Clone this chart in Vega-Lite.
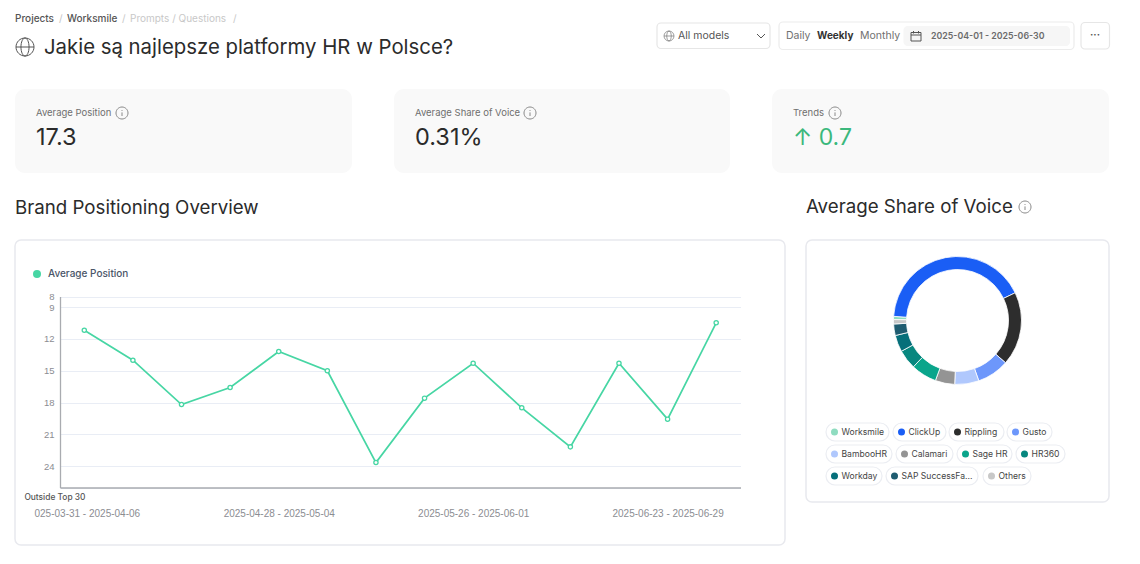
{
  "$schema": "https://vega.github.io/schema/vega-lite/v6.json",
  "background": "white",
  "padding": {"left": 14, "top": 0, "right": 0, "bottom": 0},
  "spacing": 24,
  "config": {"font": "Inter", "text": {"font": "Inter"}},
  "vconcat": [
    {
      "width": 1095,
      "height": 65,
      "view": {"stroke": null},
      "data": {"values": [{}]},
      "layer": [
        {"mark": {"type": "text", "text": "Projects", "x": 0, "y": 19, "align": "left", "fontSize": 10, "fontWeight": 500, "color": "#555555"}},
        {"mark": {"type": "text", "text": "/", "x": 44, "y": 19, "align": "left", "fontSize": 10, "color": "#c4c4c4"}},
        {"mark": {"type": "text", "text": "Worksmile", "x": 52, "y": 19, "align": "left", "fontSize": 10, "fontWeight": 500, "color": "#555555"}},
        {"mark": {"type": "text", "text": "/", "x": 107, "y": 19, "align": "left", "fontSize": 10, "color": "#c8c8c8"}},
        {"mark": {"type": "text", "text": "Prompts / Questions", "x": 115, "y": 19, "align": "left", "fontSize": 10, "color": "#c8c8c8"}},
        {"mark": {"type": "text", "text": "/", "x": 218, "y": 19, "align": "left", "fontSize": 10, "color": "#c8c8c8"}},
        {"mark": {"type": "point", "shape": "M-1,0A1,1,0,1,1,1,0A1,1,0,1,1,-1,0ZM-1,0H1M0,-1A0.45,1,0,0,0,0,1A0.45,1,0,0,0,0,-1Z", "x": 10, "y": 47, "size": 324, "stroke": "#555555", "strokeWidth": 1, "fill": null, "opacity": 1}},
        {"mark": {"type": "text", "text": "Jakie są najlepsze platformy HR w Polsce?", "x": 29, "y": 48, "align": "left", "fontSize": 20.35, "color": "#2b2b2b"}},
        {"mark": {"type": "rect", "x": 642, "x2": 755, "y": 23, "y2": 48.5, "fill": "white", "stroke": "#e6e6e6", "strokeWidth": 1.2, "cornerRadius": 4}},
        {"mark": {"type": "point", "shape": "M-1,0A1,1,0,1,1,1,0A1,1,0,1,1,-1,0ZM-1,0H1M0,-1A0.45,1,0,0,0,0,1A0.45,1,0,0,0,0,-1Z", "x": 654, "y": 36, "size": 100, "stroke": "#777777", "strokeWidth": 0.7, "fill": null, "opacity": 1}},
        {"mark": {"type": "text", "text": "All models", "x": 663, "y": 36, "align": "left", "fontSize": 10.5, "color": "#555555"}},
        {"mark": {"type": "point", "shape": "M-1,-0.5L0,0.5L1,-0.5", "x": 746, "y": 36, "size": 64, "stroke": "#555555", "strokeWidth": 1, "fill": null, "opacity": 1}},
        {"mark": {"type": "rect", "x": 764, "x2": 1059, "y": 22, "y2": 49.5, "fill": "white", "stroke": "#ececec", "strokeWidth": 1.2, "cornerRadius": 4}},
        {"mark": {"type": "text", "text": "Daily", "x": 771, "y": 36, "align": "left", "fontSize": 10.5, "color": "#707070"}},
        {"mark": {"type": "text", "text": "Weekly", "x": 802, "y": 36, "align": "left", "fontSize": 10, "fontWeight": 700, "color": "#333333"}},
        {"mark": {"type": "text", "text": "Monthly", "x": 845, "y": 36, "align": "left", "fontSize": 10.5, "color": "#707070"}},
        {"mark": {"type": "rect", "x": 888.5, "x2": 1055, "y": 26, "y2": 46, "fill": "#f6f6f6", "cornerRadius": 4}},
        {"mark": {"type": "point", "shape": "M-1,-0.7H1V1H-1ZM-1,-0.2H1M-0.5,-1V-0.5M0.5,-1V-0.5", "x": 901, "y": 36, "size": 100, "stroke": "#555555", "strokeWidth": 1, "fill": null, "opacity": 1}},
        {"mark": {"type": "text", "text": "2025-04-01 - 2025-06-30", "x": 916, "y": 36, "align": "left", "fontSize": 8.8, "fontWeight": 600, "color": "#6b6b6b"}},
        {"mark": {"type": "rect", "x": 1066, "x2": 1094.5, "y": 22.5, "y2": 49, "fill": "white", "stroke": "#e6e6e6", "strokeWidth": 1.2, "cornerRadius": 4}},
        {"mark": {"type": "text", "text": "···", "x": 1080, "y": 35, "align": "center", "fontSize": 10, "fontWeight": 700, "color": "#555555"}}
      ]
    },
    {
      "spacing": 42,
      "hconcat": [
        {
          "width": 337,
          "height": 84,
          "view": {"fill": "#f9f9f9", "stroke": null, "cornerRadius": 10},
          "data": {"values": [{"metric": "Average Position", "value": "17.3"}]},
          "layer": [
            {"mark": {"type": "text", "x": 21, "y": 24, "align": "left", "fontSize": 9.5, "color": "#6f6f6f"}, "encoding": {"text": {"field": "metric"}}},
            {"mark": {"type": "point", "shape": "M-1,0A1,1,0,1,1,1,0A1,1,0,1,1,-1,0ZM0,-0.1V0.5M0,-0.5V-0.35", "x": 107, "y": 24, "size": 144, "stroke": "#888888", "strokeWidth": 1, "fill": null, "opacity": 1}},
            {"mark": {"type": "text", "x": 21, "y": 49, "align": "left", "fontSize": 23.5, "color": "#2b2b2b"}, "encoding": {"text": {"field": "value"}}}
          ]
        },
        {
          "width": 336,
          "height": 84,
          "view": {"fill": "#f9f9f9", "stroke": null, "cornerRadius": 10},
          "data": {"values": [{"metric": "Average Share of Voice", "value": "0.31%"}]},
          "layer": [
            {"mark": {"type": "text", "x": 21, "y": 24, "align": "left", "fontSize": 9.5, "color": "#6f6f6f"}, "encoding": {"text": {"field": "metric"}}},
            {"mark": {"type": "point", "shape": "M-1,0A1,1,0,1,1,1,0A1,1,0,1,1,-1,0ZM0,-0.1V0.5M0,-0.5V-0.35", "x": 136, "y": 24, "size": 144, "stroke": "#888888", "strokeWidth": 1, "fill": null, "opacity": 1}},
            {"mark": {"type": "text", "x": 21, "y": 49, "align": "left", "fontSize": 23.5, "color": "#2b2b2b"}, "encoding": {"text": {"field": "value"}}}
          ]
        },
        {
          "width": 337,
          "height": 84,
          "view": {"fill": "#f9f9f9", "stroke": null, "cornerRadius": 10},
          "data": {"values": [{"metric": "Trends", "value": "↑ 0.7"}]},
          "layer": [
            {"mark": {"type": "text", "x": 21, "y": 24, "align": "left", "fontSize": 9.5, "color": "#6f6f6f"}, "encoding": {"text": {"field": "metric"}}},
            {"mark": {"type": "point", "shape": "M-1,0A1,1,0,1,1,1,0A1,1,0,1,1,-1,0ZM0,-0.1V0.5M0,-0.5V-0.35", "x": 63, "y": 24, "size": 144, "stroke": "#888888", "strokeWidth": 1, "fill": null, "opacity": 1}},
            {"mark": {"type": "text", "x": 21, "y": 49, "align": "left", "fontSize": 23, "color": "#3bb87c"}, "encoding": {"text": {"field": "value"}}}
          ]
        }
      ]
    },
    {
      "spacing": 19,
      "resolve": {"scale": {"color": "independent"}, "legend": {"color": "independent"}},
      "hconcat": [
        {
          "width": 770,
          "height": 305,
          "view": {"fill": "white", "stroke": "#e8e9ee", "strokeWidth": 1.5, "cornerRadius": 6},
          "title": {"text": "Brand Positioning Overview", "anchor": "start", "frame": "group", "fontSize": 18.7, "fontWeight": 400, "color": "#2b2b2b", "offset": 23, "dy": 1},
          "data": {"values": [
            {"week": "2025-03-31 - 2025-04-06", "series": "Average Position", "position": 11.18},
            {"week": "2025-04-07 - 2025-04-13", "series": "Average Position", "position": 14.0},
            {"week": "2025-04-14 - 2025-04-20", "series": "Average Position", "position": 18.18},
            {"week": "2025-04-21 - 2025-04-27", "series": "Average Position", "position": 16.58},
            {"week": "2025-04-28 - 2025-05-04", "series": "Average Position", "position": 13.18},
            {"week": "2025-05-05 - 2025-05-11", "series": "Average Position", "position": 15.0},
            {"week": "2025-05-12 - 2025-05-18", "series": "Average Position", "position": 23.65},
            {"week": "2025-05-19 - 2025-05-25", "series": "Average Position", "position": 17.58},
            {"week": "2025-05-26 - 2025-06-01", "series": "Average Position", "position": 14.29},
            {"week": "2025-06-02 - 2025-06-08", "series": "Average Position", "position": 18.49},
            {"week": "2025-06-09 - 2025-06-15", "series": "Average Position", "position": 22.17},
            {"week": "2025-06-16 - 2025-06-22", "series": "Average Position", "position": 14.29},
            {"week": "2025-06-23 - 2025-06-29", "series": "Average Position", "position": 19.56},
            {"week": "2025-06-30 - 2025-07-06", "series": "Average Position", "position": 10.48}
          ]},
          "mark": {"type": "line", "strokeWidth": 1.7, "point": {"filled": false, "fill": "white", "size": 18, "strokeWidth": 1.3, "opacity": 1}},
          "encoding": {
            "x": {
              "field": "week",
              "type": "ordinal",
              "sort": null,
              "scale": {"type": "point", "padding": 0.5, "range": [45, 725.5]},
              "axis": {
                "title": null,
                "offset": -57.5,
                "values": ["2025-03-31 - 2025-04-06", "2025-04-28 - 2025-05-04", "2025-05-26 - 2025-06-01", "2025-06-23 - 2025-06-29"],
                "labelExpr": "datum.label == '2025-03-31 - 2025-04-06' ? slice(datum.label, 1) : datum.label",
                "labelOffset": {"condition": {"test": "datum.label == '2025-03-31 - 2025-04-06'", "value": 2.5}, "value": 0},
                "labelAngle": 0,
                "labelOverlap": false,
                "labelFont": "Liberation Sans",
                "labelFontSize": 10,
                "labelColor": "#8b8d92",
                "labelPadding": 26,
                "labelBaseline": "middle",
                "ticks": false,
                "grid": false,
                "domainColor": "#a9abb0",
                "domainWidth": 1.3
              }
            },
            "y": {
              "field": "position",
              "type": "quantitative",
              "scale": {"domain": [8, 26], "range": [56.5, 247.5], "nice": false, "zero": false},
              "axis": {
                "title": null,
                "offset": -45,
                "values": [8, 9, 12, 15, 18, 21, 24, 26],
                "labelExpr": "datum.value == 26 ? 'Outside Top 30' : datum.label",
                "labelFont": {"condition": {"test": "datum.value == 26", "value": "Inter"}, "value": "Liberation Sans"},
                "labelFontSize": {"condition": {"test": "datum.value == 26", "value": 8.4}, "value": 9.5},
                "labelColor": {"condition": {"test": "datum.value == 26", "value": "#555555"}, "value": "#8b8d92"},
                "labelFontWeight": {"condition": {"test": "datum.value == 26", "value": 500}, "value": 400},
                "labelPadding": {"condition": {"test": "datum.value == 26", "value": -25}, "value": 6},
                "labelOffset": {"condition": {"test": "datum.value == 26", "value": 9}, "value": 0},
                "ticks": false,
                "grid": true,
                "gridColor": "#e9edf5",
                "gridWidth": 1,
                "domainColor": "#a9abb0",
                "domainWidth": 1.3
              }
            },
            "color": {
              "field": "series",
              "type": "nominal",
              "scale": {"range": ["#47d6a4"]},
              "legend": {
                "title": null,
                "orient": "none",
                "legendX": 17,
                "legendY": 29,
                "symbolType": "circle",
                "symbolSize": 64,
                "labelFontSize": 10,
                "labelFontWeight": 500,
                "labelColor": "#4a5568",
                "labelOffset": 6,
                "encoding": {
                  "symbols": {"fill": {"value": "#47d6a4"}, "strokeWidth": {"value": 0}, "opacity": {"value": 1}}
                }
              }
            }
          }
        },
        {
          "width": 303,
          "height": 262,
          "view": {"fill": "white", "stroke": "#e8e9ee", "strokeWidth": 1.5, "cornerRadius": 6},
          "data": {"values": [
            {"brand": "Worksmile", "share": 0.8, "rank": 1},
            {"brand": "ClickUp", "share": 41.8, "rank": 2},
            {"brand": "Rippling", "share": 18.6, "rank": 3},
            {"brand": "Gusto", "share": 8.1, "rank": 4},
            {"brand": "BambooHR", "share": 6.1, "rank": 5},
            {"brand": "Calamari", "share": 4.9, "rank": 6},
            {"brand": "Sage HR", "share": 6.5, "rank": 7},
            {"brand": "HR360", "share": 4.9, "rank": 8},
            {"brand": "Workday", "share": 4.2, "rank": 9},
            {"brand": "SAP SuccessFa...", "share": 2.9, "rank": 10},
            {"brand": "Others", "share": 1.1, "rank": 11}
          ]},
          "layer": [
            {
              "mark": {"type": "arc", "radius": 64, "radius2": 51, "y": 80.5, "stroke": "white", "strokeWidth": 0.8},
              "encoding": {
                "theta": {"field": "share", "type": "quantitative", "scale": {"range": [4.727, 11.01]}},
                "order": {"field": "rank"},
                "color": {
                  "field": "brand",
                  "type": "nominal",
                  "legend": null,
                  "scale": {
                    "domain": ["Worksmile", "ClickUp", "Rippling", "Gusto", "BambooHR", "Calamari", "Sage HR", "HR360", "Workday", "SAP SuccessFa...", "Others"],
                    "range": ["#8fdcc0", "#1a5ef5", "#2d2d2d", "#6d97fb", "#b0c8fd", "#949494", "#0aa58b", "#07877f", "#066f7a", "#1f5c70", "#c8c8c8"]
                  }
                }
              }
            },
            {"transform": [{"filter": "datum.brand == 'Worksmile'"}], "layer": [
              {"mark": {"type": "rect", "x": 20, "x2": 83, "y": 183, "y2": 201, "fill": "white", "stroke": "#ebedf2", "strokeWidth": 1.2, "cornerRadius": 9}},
              {"mark": {"type": "point", "filled": true, "opacity": 1, "size": 49, "x": 28.5, "y": 192}, "encoding": {"color": {"field": "brand", "type": "nominal", "legend": null}}},
              {"mark": {"type": "text", "x": 35.5, "y": 192, "align": "left", "fontSize": 8.6, "color": "#444444"}, "encoding": {"text": {"field": "brand"}}}
            ]},
            {"transform": [{"filter": "datum.brand == 'ClickUp'"}], "layer": [
              {"mark": {"type": "rect", "x": 87, "x2": 140, "y": 183, "y2": 201, "fill": "white", "stroke": "#ebedf2", "strokeWidth": 1.2, "cornerRadius": 9}},
              {"mark": {"type": "point", "filled": true, "opacity": 1, "size": 49, "x": 95.5, "y": 192}, "encoding": {"color": {"field": "brand", "type": "nominal", "legend": null}}},
              {"mark": {"type": "text", "x": 102.5, "y": 192, "align": "left", "fontSize": 8.6, "color": "#444444"}, "encoding": {"text": {"field": "brand"}}}
            ]},
            {"transform": [{"filter": "datum.brand == 'Rippling'"}], "layer": [
              {"mark": {"type": "rect", "x": 143, "x2": 198, "y": 183, "y2": 201, "fill": "white", "stroke": "#ebedf2", "strokeWidth": 1.2, "cornerRadius": 9}},
              {"mark": {"type": "point", "filled": true, "opacity": 1, "size": 49, "x": 151.5, "y": 192}, "encoding": {"color": {"field": "brand", "type": "nominal", "legend": null}}},
              {"mark": {"type": "text", "x": 158.5, "y": 192, "align": "left", "fontSize": 8.6, "color": "#444444"}, "encoding": {"text": {"field": "brand"}}}
            ]},
            {"transform": [{"filter": "datum.brand == 'Gusto'"}], "layer": [
              {"mark": {"type": "rect", "x": 201, "x2": 246, "y": 183, "y2": 201, "fill": "white", "stroke": "#ebedf2", "strokeWidth": 1.2, "cornerRadius": 9}},
              {"mark": {"type": "point", "filled": true, "opacity": 1, "size": 49, "x": 209.5, "y": 192}, "encoding": {"color": {"field": "brand", "type": "nominal", "legend": null}}},
              {"mark": {"type": "text", "x": 216.5, "y": 192, "align": "left", "fontSize": 8.6, "color": "#444444"}, "encoding": {"text": {"field": "brand"}}}
            ]},
            {"transform": [{"filter": "datum.brand == 'BambooHR'"}], "layer": [
              {"mark": {"type": "rect", "x": 20, "x2": 86, "y": 205, "y2": 223, "fill": "white", "stroke": "#ebedf2", "strokeWidth": 1.2, "cornerRadius": 9}},
              {"mark": {"type": "point", "filled": true, "opacity": 1, "size": 49, "x": 28.5, "y": 214}, "encoding": {"color": {"field": "brand", "type": "nominal", "legend": null}}},
              {"mark": {"type": "text", "x": 35.5, "y": 214, "align": "left", "fontSize": 8.6, "color": "#444444"}, "encoding": {"text": {"field": "brand"}}}
            ]},
            {"transform": [{"filter": "datum.brand == 'Calamari'"}], "layer": [
              {"mark": {"type": "rect", "x": 90, "x2": 147, "y": 205, "y2": 223, "fill": "white", "stroke": "#ebedf2", "strokeWidth": 1.2, "cornerRadius": 9}},
              {"mark": {"type": "point", "filled": true, "opacity": 1, "size": 49, "x": 98.5, "y": 214}, "encoding": {"color": {"field": "brand", "type": "nominal", "legend": null}}},
              {"mark": {"type": "text", "x": 105.5, "y": 214, "align": "left", "fontSize": 8.6, "color": "#444444"}, "encoding": {"text": {"field": "brand"}}}
            ]},
            {"transform": [{"filter": "datum.brand == 'Sage HR'"}], "layer": [
              {"mark": {"type": "rect", "x": 151, "x2": 206, "y": 205, "y2": 223, "fill": "white", "stroke": "#ebedf2", "strokeWidth": 1.2, "cornerRadius": 9}},
              {"mark": {"type": "point", "filled": true, "opacity": 1, "size": 49, "x": 159.5, "y": 214}, "encoding": {"color": {"field": "brand", "type": "nominal", "legend": null}}},
              {"mark": {"type": "text", "x": 166.5, "y": 214, "align": "left", "fontSize": 8.6, "color": "#444444"}, "encoding": {"text": {"field": "brand"}}}
            ]},
            {"transform": [{"filter": "datum.brand == 'HR360'"}], "layer": [
              {"mark": {"type": "rect", "x": 210, "x2": 259, "y": 205, "y2": 223, "fill": "white", "stroke": "#ebedf2", "strokeWidth": 1.2, "cornerRadius": 9}},
              {"mark": {"type": "point", "filled": true, "opacity": 1, "size": 49, "x": 218.5, "y": 214}, "encoding": {"color": {"field": "brand", "type": "nominal", "legend": null}}},
              {"mark": {"type": "text", "x": 225.5, "y": 214, "align": "left", "fontSize": 8.6, "color": "#444444"}, "encoding": {"text": {"field": "brand"}}}
            ]},
            {"transform": [{"filter": "datum.brand == 'Workday'"}], "layer": [
              {"mark": {"type": "rect", "x": 20, "x2": 76, "y": 227, "y2": 245, "fill": "white", "stroke": "#ebedf2", "strokeWidth": 1.2, "cornerRadius": 9}},
              {"mark": {"type": "point", "filled": true, "opacity": 1, "size": 49, "x": 28.5, "y": 236}, "encoding": {"color": {"field": "brand", "type": "nominal", "legend": null}}},
              {"mark": {"type": "text", "x": 35.5, "y": 236, "align": "left", "fontSize": 8.6, "color": "#444444"}, "encoding": {"text": {"field": "brand"}}}
            ]},
            {"transform": [{"filter": "datum.brand == 'SAP SuccessFa...'"}], "layer": [
              {"mark": {"type": "rect", "x": 80, "x2": 172, "y": 227, "y2": 245, "fill": "white", "stroke": "#ebedf2", "strokeWidth": 1.2, "cornerRadius": 9}},
              {"mark": {"type": "point", "filled": true, "opacity": 1, "size": 49, "x": 88.5, "y": 236}, "encoding": {"color": {"field": "brand", "type": "nominal", "legend": null}}},
              {"mark": {"type": "text", "x": 95.5, "y": 236, "align": "left", "fontSize": 8.6, "color": "#444444"}, "encoding": {"text": {"field": "brand"}}}
            ]},
            {"transform": [{"filter": "datum.brand == 'Others'"}], "layer": [
              {"mark": {"type": "rect", "x": 177, "x2": 225, "y": 227, "y2": 245, "fill": "white", "stroke": "#ebedf2", "strokeWidth": 1.2, "cornerRadius": 9}},
              {"mark": {"type": "point", "filled": true, "opacity": 1, "size": 49, "x": 185.5, "y": 236}, "encoding": {"color": {"field": "brand", "type": "nominal", "legend": null}}},
              {"mark": {"type": "text", "x": 192.5, "y": 236, "align": "left", "fontSize": 8.6, "color": "#444444"}, "encoding": {"text": {"field": "brand"}}}
            ]},
            {"data": {"values": [{"title": "Average Share of Voice"}]}, "mark": {"type": "text", "x": 0, "y": -33, "align": "left", "baseline": "middle", "fontSize": 18.7, "color": "#2b2b2b", "clip": false}, "encoding": {"text": {"field": "title"}}},
            {"data": {"values": [{}]}, "mark": {"type": "point", "shape": "M-1,0A1,1,0,1,1,1,0A1,1,0,1,1,-1,0ZM0,-0.1V0.5M0,-0.5V-0.35", "x": 219, "y": -33, "size": 144, "stroke": "#888888", "strokeWidth": 1, "fill": null, "opacity": 1, "clip": false}}
          ]
        }
      ]
    }
  ]
}
